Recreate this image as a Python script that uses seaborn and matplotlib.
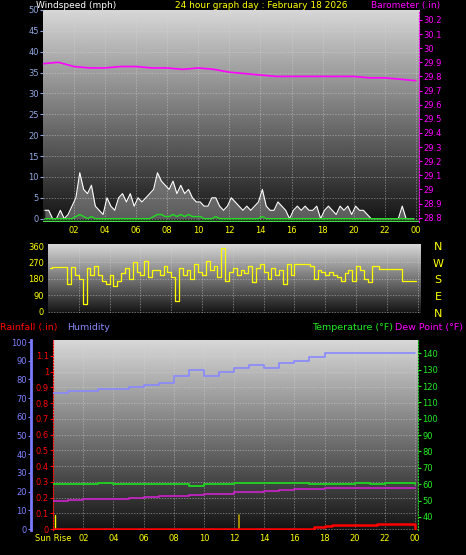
import numpy as np
import pandas as pd
import seaborn as sns
import matplotlib.pyplot as plt

# 15 minute bins over the day
wind_gust = [2, 2, 0, 0, 2, 0, 1, 3, 5, 11, 7, 6, 8, 3, 2, 1, 5, 3, 2, 5, 6, 4, 6, 3,
             5, 4, 5, 6, 7, 11, 9, 8, 7, 9, 6, 8, 6, 7, 5, 4, 4, 3, 3, 5, 5, 3, 2, 3,
             5, 4, 3, 2, 3, 2, 3, 4, 7, 3, 2, 2, 4, 3, 2, 0, 2, 3, 2, 3, 2, 2, 3, 0,
             2, 3, 2, 1, 3, 2, 3, 1, 3, 2, 2, 1, 0, 0, 0, 0, 0, 0, 0, 0, 3, 0, 0, 0]
wind_avg = [0, 0, 0, 0, 0, 0, 0, 0, 0.5, 1, 0.5, 0, 0.5, 0, 0, 0, 0, 0, 0, 0, 0, 0, 0, 0,
            0, 0, 0, 0, 0.5, 1, 1, 0.5, 0.5, 1, 0.5, 1, 0.5, 1, 0.5, 0.5, 0.5, 0, 0, 0, 0.5, 0, 0, 0,
            0, 0, 0, 0, 0, 0, 0, 0, 0.5, 0, 0, 0, 0, 0, 0, 0, 0, 0, 0, 0, 0, 0, 0, 0,
            0, 0, 0, 0, 0, 0, 0, 0, 0, 0, 0, 0, 0, 0, 0, 0, 0, 0, 0, 0, 0, 0, 0, 0]
wind_dir = [240, 245, 245, 245, 245, 150, 245, 200, 180, 40, 240, 200, 250, 200, 170, 150,
            200, 140, 170, 210, 240, 180, 270, 220, 200, 280, 190, 230, 230, 200, 250, 220,
            190, 60, 240, 200, 230, 180, 260, 220, 200, 280, 230, 250, 190, 350, 170, 220,
            240, 200, 230, 210, 250, 160, 240, 260, 220, 180, 240, 200, 230, 150, 260, 200,
            260, 260, 260, 260, 250, 180, 230, 220, 200, 220, 200, 190, 170, 210, 230, 170,
            250, 230, 180, 160, 250, 250, 235, 235, 235, 235, 235, 235, 170, 170, 170, 170]

# hourly values
baro = [29.89, 29.90, 29.87, 29.86, 29.86, 29.87, 29.87, 29.86, 29.86, 29.85, 29.86, 29.85,
        29.83, 29.82, 29.81, 29.80, 29.80, 29.80, 29.80, 29.80, 29.80, 29.79, 29.79, 29.78, 29.77]
humidity = [73, 74, 74, 75, 75, 76, 77, 78, 82, 85, 82, 84, 86, 88, 86, 89, 90, 92, 94,
            94, 94, 94, 94, 94, 94]
temperature = [60, 60, 60, 60.5, 60, 60, 60, 60, 60, 59, 60, 60, 60.5, 60.5, 60.5, 60.5,
               60.5, 60, 60, 60, 60.5, 60, 60.5, 60.5, 60]
dew_point = [50, 50.5, 51, 51, 51, 51.5, 52, 52.5, 53, 53.5, 54, 54, 55, 55.5, 56, 56.5,
             57, 57, 57.5, 57.5, 57.5, 57.5, 57.5, 57.5, 57.5]
rain_hours = [0, 17, 17.3, 18, 18.5, 21.5, 23.9, 24]
rain = [0, 0, 0.013, 0.023, 0.03, 0.036, 0.036, 0]

hour_labels = ['02', '04', '06', '08', '10', '12', '14', '16', '18', '20', '22', '00']

t15 = np.arange(96) / 4 + 0.125
th = np.arange(25)

sns.set_style('dark')
plt.rcParams['font.family'] = ['DejaVu Sans']
fig = plt.figure(figsize=(4.66, 5.55), dpi=100, facecolor='black')

grad = np.linspace(0, 1, 256).reshape(-1, 1)


def panel(rect):
    ax = fig.add_axes(rect)
    ax.imshow(grad, extent=[0, 1, 0, 1], transform=ax.transAxes, cmap='gray',
              vmin=-0.1, vmax=1.2, aspect='auto', origin='lower', zorder=0)
    ax.set_facecolor('black')
    ax.set_xlim(0, 24.2)
    ax.set_xticks(range(2, 25, 2))
    ax.grid(True, color='#d8d8d8', lw=0.5, ls=(0, (2, 2)), alpha=0.6)
    for s in ax.spines.values():
        s.set_visible(False)
    ax.tick_params(labelsize=6, length=2, pad=1)
    return ax


# top: wind + barometer
ax1 = panel([0.092, 0.6, 0.807, 0.382])
ax1.set_ylim(-0.8, 50)
ax1.set_yticks(range(0, 51, 5))
ax1.set_xticklabels(hour_labels)
ax1.tick_params(axis='x', colors='yellow', labelcolor='yellow')
ax1.tick_params(axis='y', colors='#8fa8e0', labelcolor='#8fa8e0')
ax1.fill_between(t15, wind_gust, color='white', alpha=0.3, lw=0)
sns.lineplot(x=t15, y=wind_gust, ax=ax1, color='white', lw=0.8)
sns.lineplot(x=t15, y=wind_avg, ax=ax1, color='#22dd22', lw=1)
ax1.axhline(-0.5, color='#44dd44', lw=1)
ax1b = ax1.twinx()
ax1b.set_ylim(28.77, 30.27)
ax1b.set_yticks(np.round(np.arange(28.8, 30.25, 0.1), 1))
ax1b.set_yticklabels([f'{v:g}' for v in np.round(np.arange(28.8, 30.25, 0.1), 1)])
ax1b.tick_params(colors='magenta', labelsize=6, length=2, pad=1)
for s in ax1b.spines.values():
    s.set_visible(False)
ax1b.spines['right'].set_visible(True)
ax1b.spines['right'].set_color('magenta')
ax1b.spines['right'].set_linestyle(':')
sns.lineplot(x=th, y=baro, ax=ax1b, color='magenta', lw=1.2)

# middle: wind direction (shares the hour labels of the top panel)
ax2 = panel([0.103, 0.436, 0.80, 0.124])
ax2.set_ylim(-8, 370)
ax2.set_yticks([0, 90, 180, 270, 360])
ax2.set_xticklabels([])
ax2.tick_params(colors='yellow', labelcolor='yellow')
ax2.tick_params(axis='x', length=0)
sns.lineplot(x=t15, y=wind_dir, ax=ax2, color='yellow', lw=0.9, drawstyle='steps-mid')
for i, c in enumerate(['N', 'W', 'S', 'E', 'N']):
    fig.text(0.94, 0.555 - i * 0.03, c, color='yellow', fontsize=8, ha='center', va='center')

# bottom: rain, humidity, temperature, dew point
ax3 = panel([0.114, 0.045, 0.783, 0.342])
ax3.set_ylim(-0.005, 1.2)
ax3.set_yticks(np.round(np.arange(0, 1.15, 0.1), 1))
ax3.set_yticklabels([f'{v:g}' for v in np.round(np.arange(0, 1.15, 0.1), 1)])
ax3.tick_params(axis='y', colors='red', labelcolor='red')
ax3.spines['left'].set_visible(True)
ax3.spines['left'].set_color('red')
ax3.spines['left'].set_linestyle(':')
ax3.set_xticks([0] + list(range(2, 25, 2)))
ax3.set_xticklabels(['Sun Rise'] + hour_labels)
ax3.tick_params(axis='x', colors='yellow', labelcolor='yellow')
ax3.axvline(0.1, ymax=0.08, color='yellow', lw=1)
ax3.axvline(12.3, ymax=0.08, color='#b8a000', lw=1.2)
sns.lineplot(x=rain_hours, y=rain, ax=ax3, color='red', lw=1.8, drawstyle='steps-post', zorder=5)

ax3h = ax3.twinx()
ax3h.yaxis.tick_left()
ax3h.yaxis.set_label_position('left')
ax3h.spines['left'].set_position(('axes', -0.06))
for s in ['top', 'right', 'bottom']:
    ax3h.spines[s].set_visible(False)
ax3h.spines['left'].set_color('#7b7bff')
ax3h.spines['left'].set_linewidth(2)
ax3h.set_ylim(-0.5, 101)
ax3h.set_yticks(range(0, 101, 10))
ax3h.tick_params(colors='#8080ff', labelsize=6, length=2, pad=1)
sns.lineplot(x=th, y=humidity, ax=ax3h, color='#8888ff', lw=1.2, drawstyle='steps-post')

ax3t = ax3.twinx()
for s in ['top', 'left', 'bottom']:
    ax3t.spines[s].set_visible(False)
ax3t.spines['right'].set_color('#22cc22')
ax3t.spines['right'].set_linestyle(':')
ax3t.set_ylim(32, 148)
ax3t.set_yticks(range(40, 141, 10))
ax3t.tick_params(colors='#22ee22', labelsize=6, length=2, pad=1)
sns.lineplot(x=th, y=temperature, ax=ax3t, color='#22cc22', lw=1.4, drawstyle='steps-post')
sns.lineplot(x=th, y=dew_point, ax=ax3t, color='#cc22cc', lw=1.2, drawstyle='steps-post')

for a in [ax1, ax1b, ax2, ax3, ax3h, ax3t]:
    a.set_xlabel('')
    a.set_ylabel('')

fig.text(0.077, 0.999, 'Windspeed (mph)', color='white', fontsize=6.5, va='top')
fig.text(0.56, 0.999, '24 hour graph day : February 18 2026', color='yellow', fontsize=6.5,
         va='top', ha='center')
fig.text(0.945, 0.999, 'Barometer (.in)', color='magenta', fontsize=6.5, va='top', ha='right')
fig.text(0.0, 0.41, 'Rainfall (.in)', color='red', fontsize=6.8, va='center')
fig.text(0.143, 0.41, 'Humidity', color='#8888ff', fontsize=6.8, va='center')
fig.text(0.67, 0.41, 'Temperature (°F)', color='#22ee22', fontsize=6.8, va='center')
fig.text(0.848, 0.41, 'Dew Point (°F)', color='magenta', fontsize=6.8, va='center')

fig.savefig('out.png', dpi=100, facecolor='black')
